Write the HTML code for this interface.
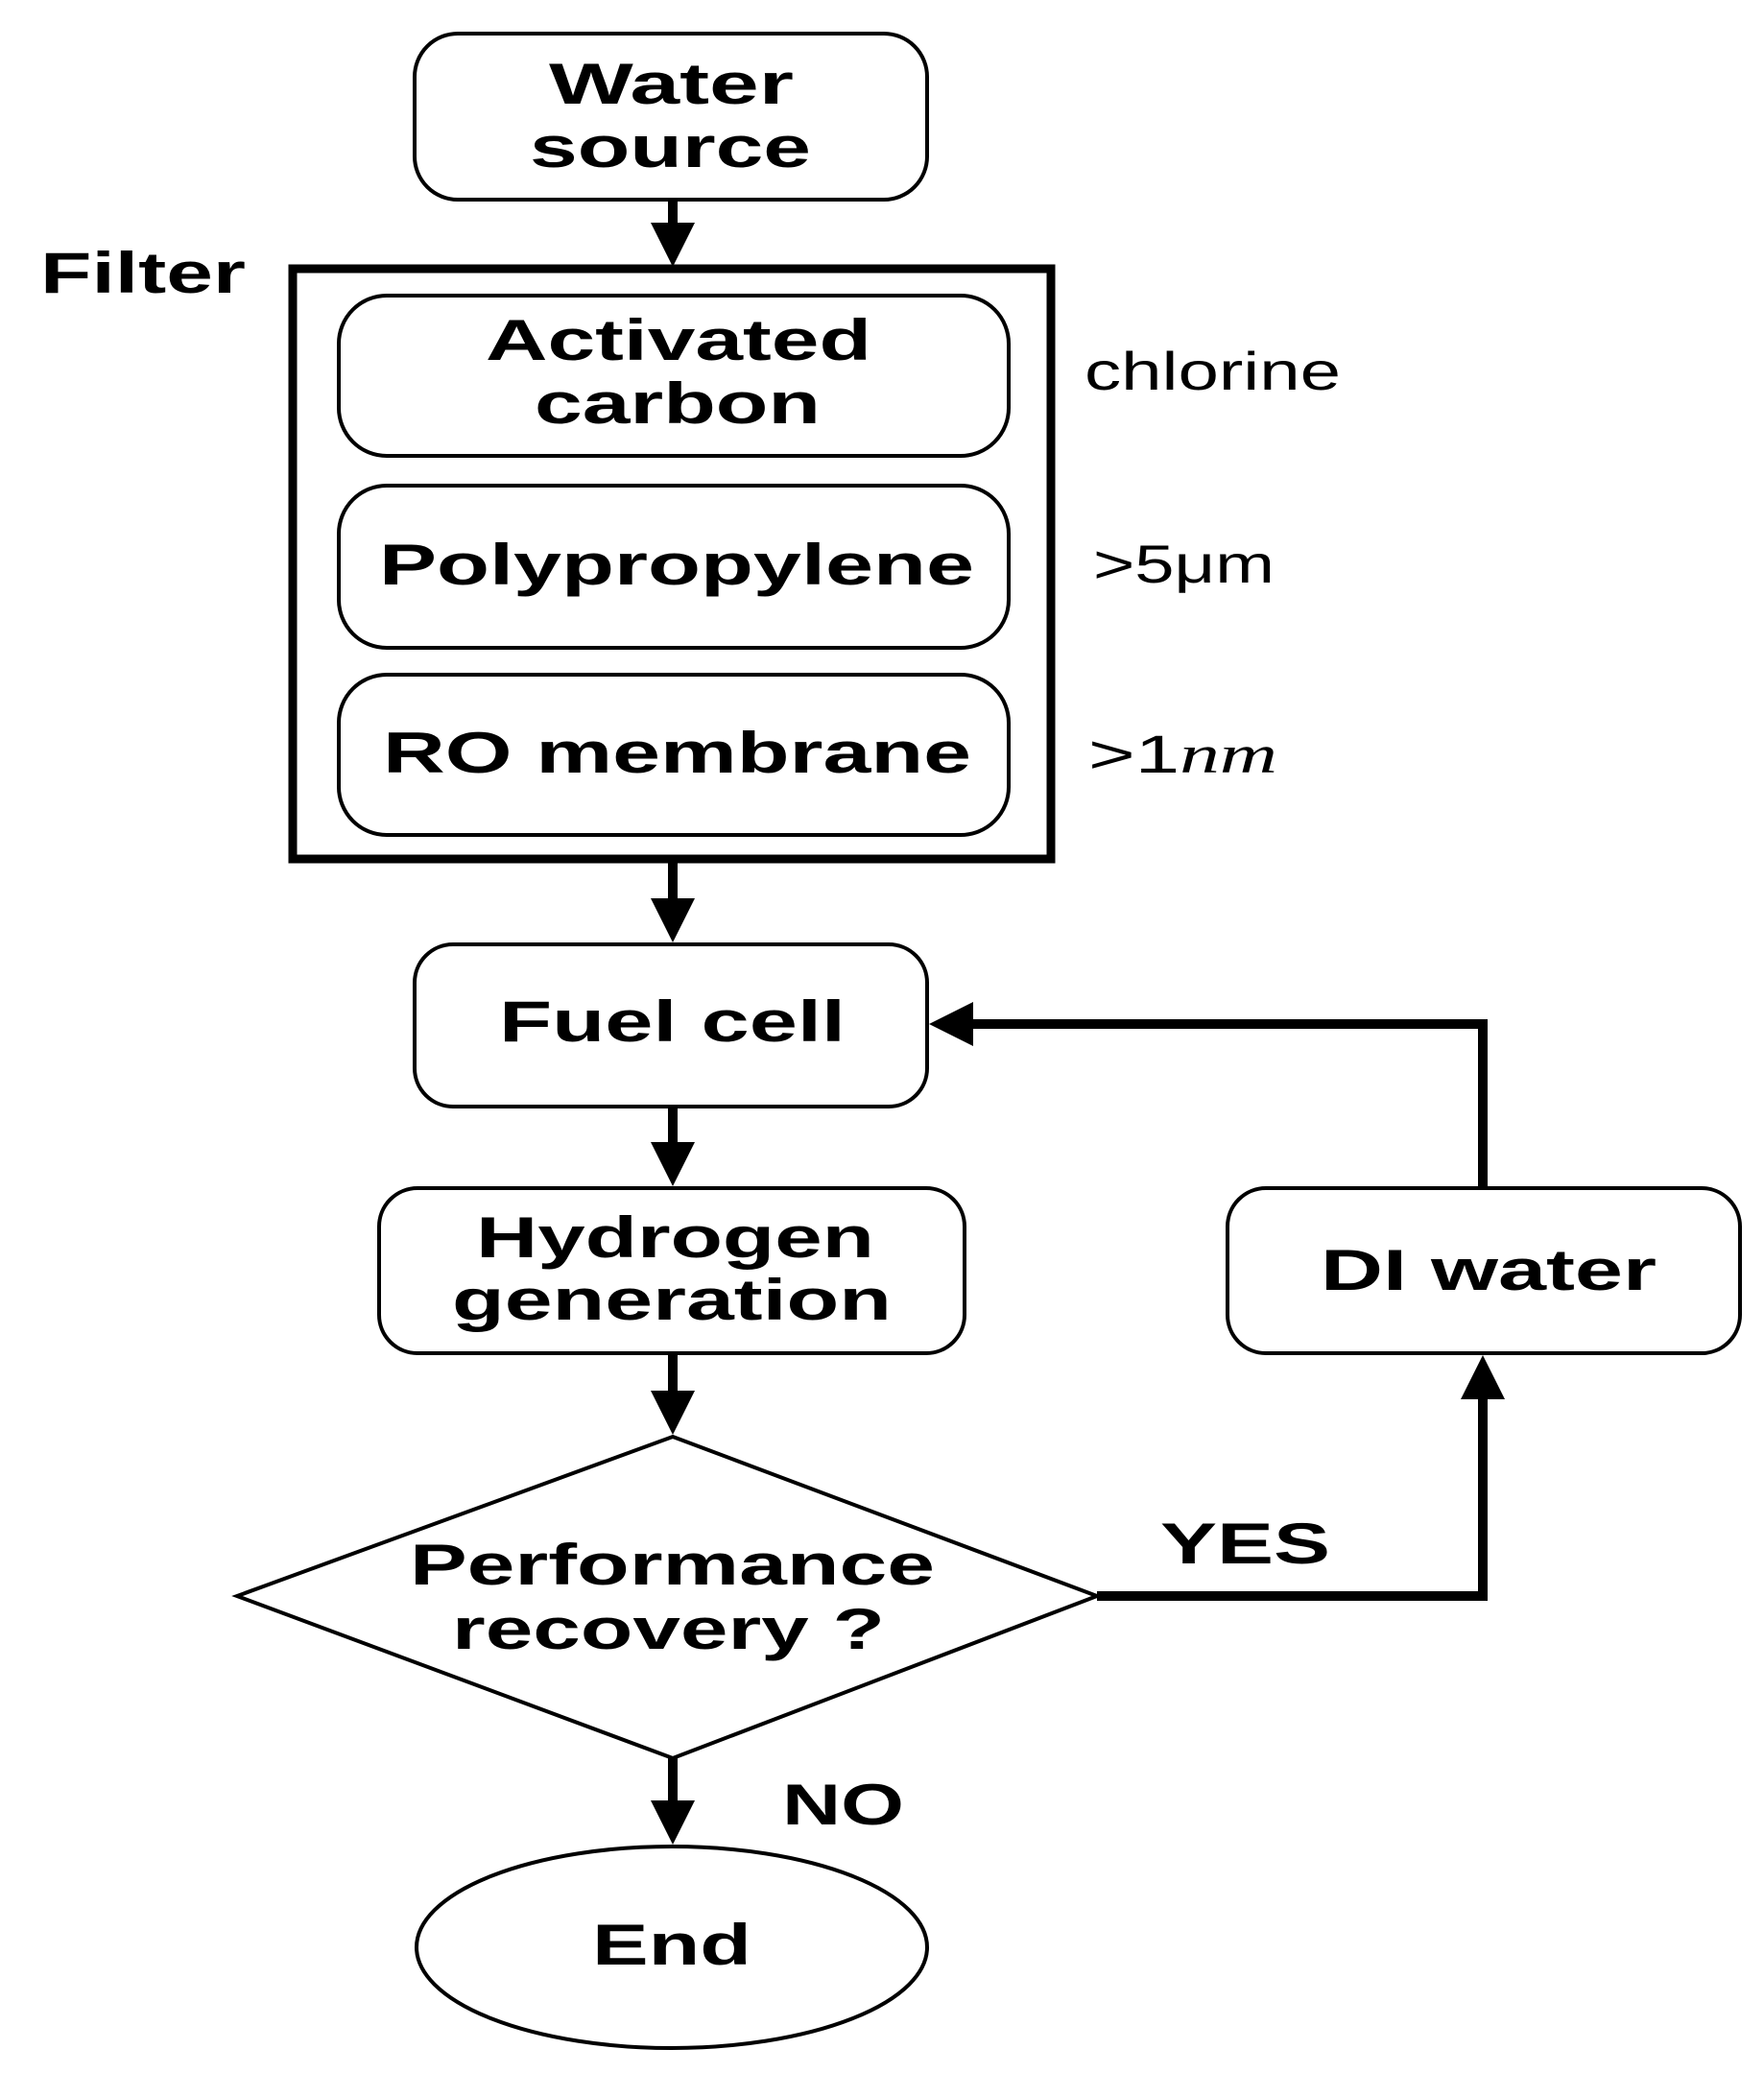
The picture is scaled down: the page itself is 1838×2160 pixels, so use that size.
<!DOCTYPE html>
<html><head><meta charset="utf-8"><style>
html,body{margin:0;padding:0;background:#fff;}
svg{display:block;}
text{font-family:"Liberation Sans",sans-serif;fill:#000;}
.b{font-weight:bold;font-size:60px;}
.r{font-size:56px;}
</style></head><body>
<svg width="1838" height="2160" viewBox="0 0 1838 2160" xmlns="http://www.w3.org/2000/svg">
<defs>
<marker id="ah" markerWidth="4.6" markerHeight="4.6" refX="0.2" refY="2.3" orient="auto" markerUnits="strokeWidth">
<path d="M0,0 L4.6,2.3 L0,4.6 Z" fill="#000"/>
</marker>
</defs>
<g fill="none" stroke="#000" stroke-width="4">
<rect x="432" y="35" width="534" height="173" rx="45"/>
<rect x="305" y="280" width="790" height="615" stroke-width="9"/>
<rect x="353" y="308" width="698" height="167" rx="50"/>
<rect x="353" y="506" width="698" height="169" rx="50"/>
<rect x="353" y="703" width="698" height="167" rx="50"/>
<rect x="432" y="984" width="534" height="169" rx="40"/>
<rect x="395" y="1238" width="610" height="172" rx="40"/>
<rect x="1279" y="1238" width="534" height="172" rx="40"/>
<path d="M701,1497 L1143,1663 L701,1832 L247,1663 Z"/>
<ellipse cx="700" cy="2029" rx="266" ry="105"/>
</g>
<g stroke="#000" stroke-width="10" fill="none">
<line x1="701" y1="208" x2="701" y2="234" marker-end="url(#ah)"/>
<line x1="701" y1="895" x2="701" y2="938" marker-end="url(#ah)"/>
<line x1="701" y1="1153" x2="701" y2="1192" marker-end="url(#ah)"/>
<line x1="701" y1="1410" x2="701" y2="1451" marker-end="url(#ah)"/>
<line x1="701" y1="1832" x2="701" y2="1878" marker-end="url(#ah)"/>
<polyline points="1143,1663 1545,1663 1545,1456" marker-end="url(#ah)"/>
<polyline points="1545,1238 1545,1067 1012,1067" marker-end="url(#ah)"/>
</g>
<text class="b" x="572" y="108" textLength="255" lengthAdjust="spacingAndGlyphs">Water</text>
<text class="b" x="552" y="174" textLength="293" lengthAdjust="spacingAndGlyphs">source</text>
<text class="b" x="42" y="305" textLength="214" lengthAdjust="spacingAndGlyphs">Filter</text>
<text class="b" x="506" y="375" textLength="402" lengthAdjust="spacingAndGlyphs">Activated</text>
<text class="b" x="557" y="441" textLength="298" lengthAdjust="spacingAndGlyphs">carbon</text>
<text class="b" x="395" y="609" textLength="620" lengthAdjust="spacingAndGlyphs">Polypropylene</text>
<text class="b" x="399" y="805" textLength="613" lengthAdjust="spacingAndGlyphs">RO membrane</text>
<text class="r" x="1130" y="406" textLength="267" lengthAdjust="spacingAndGlyphs">chlorine</text>
<text class="r" x="1139" y="607" textLength="189" lengthAdjust="spacingAndGlyphs">&gt;5μm</text>
<text class="r" x="1134" y="805" textLength="197" lengthAdjust="spacingAndGlyphs">&gt;1<tspan font-style="italic" font-family="Liberation Serif">nm</tspan></text>
<text class="b" x="520" y="1085" textLength="361" lengthAdjust="spacingAndGlyphs">Fuel cell</text>
<text class="b" x="496" y="1310" textLength="415" lengthAdjust="spacingAndGlyphs">Hydrogen</text>
<text class="b" x="471" y="1375" textLength="458" lengthAdjust="spacingAndGlyphs">generation</text>
<text class="b" x="1376" y="1344" textLength="350" lengthAdjust="spacingAndGlyphs">DI water</text>
<text class="b" x="427" y="1651" textLength="547" lengthAdjust="spacingAndGlyphs">Performance</text>
<text class="b" x="471" y="1718" textLength="451" lengthAdjust="spacingAndGlyphs">recovery ?</text>
<text class="b" x="1209" y="1629" textLength="177" lengthAdjust="spacingAndGlyphs">YES</text>
<text class="b" x="815" y="1901" textLength="127" lengthAdjust="spacingAndGlyphs">NO</text>
<text class="b" x="617" y="2047" textLength="166" lengthAdjust="spacingAndGlyphs">End</text>
</svg>
</body></html>
